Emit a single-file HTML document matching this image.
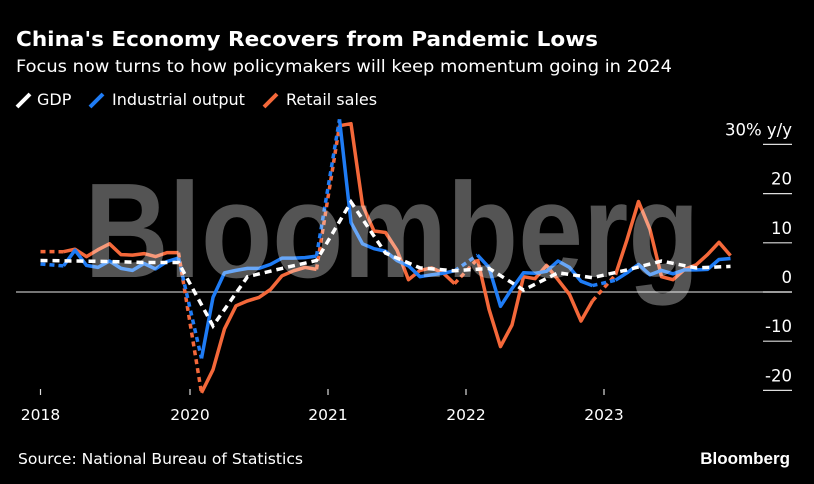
<!DOCTYPE html>
<html><head><meta charset="utf-8"><style>
body{margin:0;background:#000;}
svg{display:block;font-family:"DejaVu Sans",sans-serif;}
</style></head><body>
<svg id="chart" width="814" height="484" viewBox="0 0 814 484">
<rect width="814" height="484" fill="#000"/>
<text x="16" y="46" fill="#fff" font-size="20.5" font-weight="bold" textLength="582" lengthAdjust="spacingAndGlyphs">China's Economy Recovers from Pandemic Lows</text>
<text x="16" y="72" fill="#fff" font-size="17" textLength="656" lengthAdjust="spacingAndGlyphs">Focus now turns to how policymakers will keep momentum going in 2024</text>
<g font-size="16" fill="#fff">
<g><line x1="17" y1="107" x2="30" y2="94" stroke="#fff" stroke-width="4"/><text x="37" y="105">GDP</text></g>
<g><line x1="90" y1="107" x2="103" y2="94" stroke="#1f7cf5" stroke-width="4"/><text x="112" y="105">Industrial output</text></g>
<g><line x1="264" y1="107" x2="277" y2="94" stroke="#f4683a" stroke-width="4"/><text x="286" y="105">Retail sales</text></g>
</g>
<g id="axes"></g>
<g id="series"></g>
<text x="392" y="277" fill="rgba(255,255,255,0.33)" font-size="135" font-weight="bold" text-anchor="middle" textLength="615" lengthAdjust="spacingAndGlyphs" style="font-family:'Liberation Sans',sans-serif">Bloomberg</text>
<text x="18" y="464" fill="#fff" font-size="15" textLength="285" lengthAdjust="spacingAndGlyphs">Source: National Bureau of Statistics</text>
<text x="790" y="464" fill="#fff" font-size="17" font-weight="bold" text-anchor="end" style="font-family:'Liberation Sans',sans-serif">Bloomberg</text>
</svg>
<script>
// month index: 0 = Jan 2020
const monthIdx=[-13,-11,-10,-9,-8,-7,-6,-5,-4,-3,-2,-1,1,2,3,4,5,6,7,8,9,10,11,13,14,15,16,17,18,19,20,21,22,23,25,26,27,28,29,30,31,32,33,34,35,37,38,39,40,41,42,43,44,45,46,47];
const industrialOutput=[5.7,5.3,8.5,5.4,5.0,6.3,4.8,4.4,5.8,4.7,6.2,6.9,-13.5,-1.1,3.9,4.4,4.8,4.8,5.6,6.9,6.9,7.0,7.3,35.1,14.1,9.8,8.8,8.3,6.4,5.3,3.1,3.5,3.8,4.3,7.5,5.0,-2.9,0.7,3.9,3.8,4.2,6.3,5.0,2.2,1.3,2.4,3.9,5.6,3.5,4.4,3.7,4.5,4.5,4.6,6.6,6.8];
const retailSales=[8.2,8.2,8.7,7.2,8.6,9.8,7.6,7.5,7.8,7.2,8.0,8.0,-20.5,-15.8,-7.5,-2.8,-1.8,-1.1,0.5,3.3,4.3,5.0,4.6,33.8,34.2,17.7,12.4,12.1,8.5,2.5,4.4,4.9,3.9,1.7,6.7,-3.5,-11.1,-6.7,3.1,2.7,5.4,2.5,-0.5,-5.9,-1.8,3.5,10.6,18.4,12.7,3.1,2.5,4.6,5.5,7.6,10.1,7.4];
const gdpMonths=[-13,-10,-7,-4,-1,2,5,8,11,14,17,20,23,26,29,32,35,38,41,44,47];
const gdp=[6.4,6.3,6.2,6.0,6.0,-6.9,3.1,4.8,6.4,18.3,7.9,4.9,4.3,4.8,0.4,3.9,2.9,4.5,6.3,4.9,5.2];
const yTicks=[30,20,10,0,-10,-20];
const yearLabels=["2018","2020","2021","2022","2023"];
const yearTickMonths=[-13,0,12,24,36];

const NS="http://www.w3.org/2000/svg";
const xs=m=>190+m*11.5;
const ys=v=>292-v*4.92;
const axes=document.getElementById('axes');
const series=document.getElementById('series');
function mk(tag,attrs,parent){const e=document.createElementNS(NS,tag);for(const k in attrs)e.setAttribute(k,attrs[k]);parent.appendChild(e);return e;}

const zl=mk('line',{x1:16,x2:792,y1:ys(0),y2:ys(0),stroke:'#bbb','stroke-width':1.2},axes);


yTicks.forEach(v=>{
  const t=mk('line',{x1:763,x2:792,y1:ys(v),y2:ys(v),stroke:'#ddd','stroke-width':1.2},axes);
  
  
  const lab=mk('text',{x:792,y:ys(v)-9,fill:'#fff','font-size':16.5,'text-anchor':'end'},axes);
  lab.textContent=v===30?'30% y/y':String(v);
  
  
});
yearLabels.forEach((l,i)=>{
  const x=xs(yearTickMonths[i]);
  const t=mk('line',{x1:x,x2:x,y1:389,y2:395,stroke:'#ddd','stroke-width':1.2},axes);
  
  
  const lab=mk('text',{x:x,y:420,fill:'#fff','font-size':15.5,'text-anchor':'middle'},axes);
  lab.textContent=l;
  
  
});

function drawSeries(months,vals,color,name){
  const g=mk('g',{},series);
  
  
  let solid='';
  for(let i=0;i<months.length;i++){
    const x=xs(months[i]).toFixed(1),y=ys(vals[i]).toFixed(1);
    if(i===0||months[i]-months[i-1]>1){solid+=' M'+x+' '+y;}else solid+=' L'+x+' '+y;
    if(i>0&&months[i]-months[i-1]>1){
      const d=mk('line',{x1:xs(months[i-1]),y1:ys(vals[i-1]),x2:x,y2:y,stroke:color,'stroke-width':3.5,'stroke-dasharray':'5 4'},g);
      
      
    }
  }
  const p=mk('path',{d:solid,fill:'none',stroke:color,'stroke-width':3.5,'stroke-linejoin':'round'},g);
  
  
}
drawSeries(monthIdx,retailSales,'#f4683a','retail-sales-series');
drawSeries(monthIdx,industrialOutput,'#1f7cf5','industrial-output-series');
const gp=gdpMonths.map((m,i)=>(i?'L':'M')+xs(m).toFixed(1)+' '+ys(gdp[i]).toFixed(1)).join(' ');
const gl=mk('path',{d:gp,fill:'none',stroke:'#fff','stroke-width':3.5,'stroke-dasharray':'7 5'},series);


</script>
</body></html>
